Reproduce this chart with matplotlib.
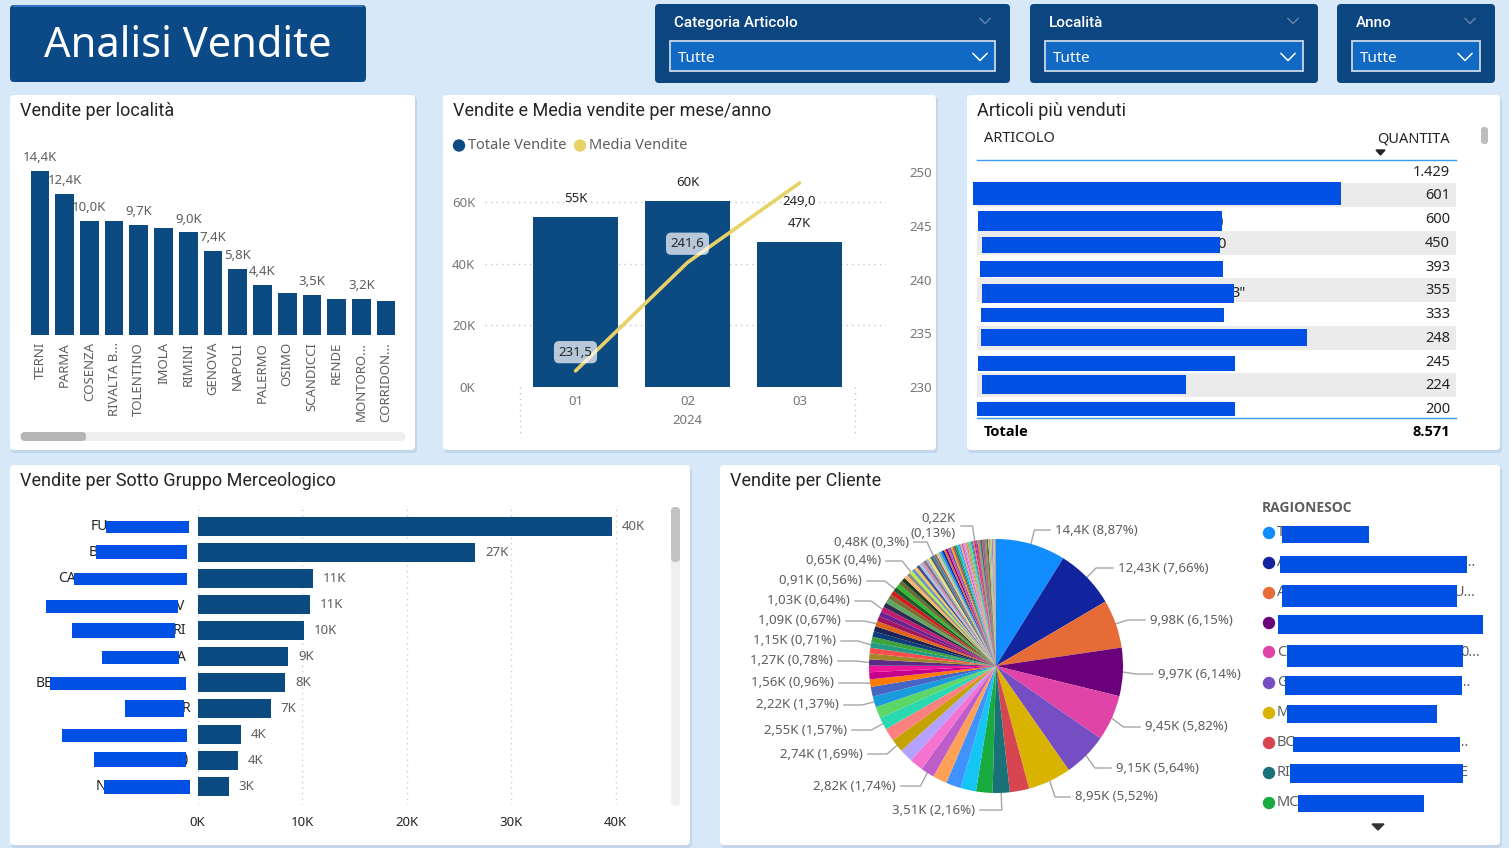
import math
import matplotlib
matplotlib.use("Agg")
import matplotlib.pyplot as plt
import matplotlib.transforms as mtransforms
from matplotlib.patches import FancyBboxPatch, Rectangle, Circle, Polygon

W, H = 1509, 848

# ---------------- dati ----------------
localita = ["TERNI", "PARMA", "COSENZA", "RIVALTA B...", "TOLENTINO", "IMOLA", "RIMINI",
            "GENOVA", "NAPOLI", "PALERMO", "OSIMO", "SCANDICCI", "RENDE", "MONTORO...",
            "CORRIDON..."]
vendite_localita = [14.4, 12.4, 10.0, 10.0, 9.7, 9.4, 9.0, 7.4, 5.8, 4.4, 3.7, 3.5, 3.2, 3.2, 3.0]
localita_con_etichetta = ["TERNI", "PARMA", "COSENZA", "TOLENTINO", "RIMINI", "GENOVA",
                          "NAPOLI", "PALERMO", "SCANDICCI", "MONTORO..."]

mesi = ["01", "02", "03"]
anno = "2024"
totale_vendite = [55100, 60300, 47000]
media_vendite = [231.5, 241.6, 249.0]

quantita_articoli = [1429, 601, 600, 450, 393, 355, 333, 248, 245, 224, 200]
totale_quantita = 8571

# nomi dei sottogruppi oscurati: restano visibili solo alcune lettere
sottogruppi_inizio = ["FU", "B", "CA", "", "", "", "BE", "", "", "", "N"]
sottogruppi_fine = ["", "", "", "V", "RI", "A", "", "R", "", ")", ""]
vendite_sottogruppi = [39.7, 26.6, 11.1, 10.8, 10.2, 8.7, 8.4, 7.0, 4.2, 3.9, 3.0]

vendite_clienti = [14.4, 12.43, 9.98, 9.97, 9.45, 9.15, 8.95,
                   4.0, 3.51, 3.4, 3.2, 3.1, 2.95, 2.82, 2.8, 2.77, 2.74, 2.65, 2.55, 2.4,
                   2.22, 2.0, 1.56, 1.45, 1.35, 1.27, 1.22, 1.18, 1.15, 1.13, 1.12, 1.10,
                   1.09, 1.07, 1.05, 1.03, 1.0, 0.98, 0.96, 0.93, 0.91, 0.88, 0.85, 0.80,
                   0.75, 0.70, 0.65, 0.63, 0.62, 0.60, 0.58, 0.56, 0.55, 0.53, 0.52, 0.50,
                   0.48, 0.46, 0.45, 0.44, 0.42, 0.41, 0.40, 0.38, 0.37, 0.36, 0.35, 0.35,
                   0.34, 0.33, 0.32, 0.31, 0.30, 0.30, 0.29, 0.28, 0.28, 0.27, 0.26, 0.25,
                   0.25, 0.24, 0.23, 0.22, 0.20, 0.19, 0.18, 0.17, 0.16, 0.15, 0.15, 0.14,
                   0.13, 0.12, 0.11, 0.10, 0.10, 0.09, 0.08, 0.07, 0.06, 0.05, 0.20, 0.19,
                   0.18, 0.17, 0.16, 0.15, 0.14, 0.13, 0.12, 0.11, 0.10, 0.09, 0.08, 0.07,
                   0.06, 0.05]
clienti_etichettati = [14.4, 12.43, 9.98, 9.97, 9.45, 9.15, 8.95, 3.51, 2.82, 2.74, 2.55,
                       2.22, 1.56, 1.27, 1.15, 1.09, 1.03, 0.91, 0.65, 0.48, 0.22]
percentuali_etichette = ["8,87", "7,66", "6,15", "6,14", "5,82", "5,64", "5,52", "2,16",
                         "1,74", "1,69", "1,57", "1,37", "0,96", "0,78", "0,71", "0,67",
                         "0,64", "0,56", "0,4", "0,3", "0,13"]

# ---------------- stile ----------------
BLU = "#0C4A82"
GIALLO = "#E8D166"
GRIGIO = "#605E5C"
SCURO = "#252423"
OSCURA = "#0050E4"
SFONDO = "#D7E8F8"
TITOLO = ["Roboto", "DejaVu Sans"]
GRASSETTO = ["Open Sans", "DejaVu Sans"]
plt.rcParams["font.family"] = ["Noto Sans", "DejaVu Sans"]

palette = ["#118DFF", "#12239E", "#E66C37", "#6B007B", "#E044A7", "#744EC2", "#D9B300",
           "#D64550", "#197278", "#1AAB40", "#15C6F4", "#4092FF", "#FFA058", "#BE5DC9",
           "#F472D0", "#B5A1FF", "#C4A200", "#FD8080", "#2BD9B0", "#5BD667", "#1A9BDB",
           "#4766C4", "#FF7A00", "#C4008C", "#F0149B", "#5B2C86", "#A3862A", "#FF4D4D",
           "#229C84", "#3AA33A", "#0D3D7A", "#1A2456", "#E0651A", "#A3145E", "#6A2390",
           "#C21A70", "#2D2B4F", "#5FA85F", "#7C6B35", "#D11A1A", "#1A5C2A", "#33B833",
           "#6A6A33", "#183F24", "#FFB36B", "#8A8A8A", "#B6F23A", "#6B8ED6", "#F2C75C",
           "#4A4A8A", "#9AC8E8", "#D98CB3", "#7A7A7A", "#B0B0D0", "#E8E870", "#5C5C5C",
           "#3E7CB1", "#9E6B3A", "#C9C9C9", "#7FBF7F"]

fig = plt.figure(figsize=(W / 100, H / 100), dpi=100)
fig.patch.set_facecolor(SFONDO)
bg = fig.add_axes([0, 0, 1, 1])
bg.set_xlim(0, W)
bg.set_ylim(H, 0)
bg.axis("off")


def rbox(x0, y0, x1, y1, fc, r=4, ec="none", lw=0, z=1, alpha=1.0):
    bg.add_patch(FancyBboxPatch((x0 + r, y0 + r), x1 - x0 - 2 * r, y1 - y0 - 2 * r,
                                boxstyle=f"round,pad={r}", fc=fc, ec=ec, lw=lw,
                                zorder=z, alpha=alpha))


def ax_px(x0, y0, x1, y1):
    return fig.add_axes([x0 / W, 1 - y1 / H, (x1 - x0) / W, (y1 - y0) / H])


def chevron(x, y, col, s=6):
    bg.plot([x - s, x, x + s], [y - s / 2, y + s / 2, y - s / 2], color=col, lw=1.1, zorder=5)


def pannello(x0, y0, x1, y1, titolo):
    rbox(x0 + 1, y0 + 2, x1 + 2, y1 + 3, "#AFC4D9", alpha=0.45)
    rbox(x0, y0, x1, y1, "white")
    bg.text(x0 + 10, y0 + 16, titolo, fontsize=13, color=SCURO, family=TITOLO,
            va="center", zorder=5)


def fmt_k(v):
    s = f"{v:.2f}".rstrip("0").rstrip(".")
    return s.replace(".", ",")


# ---------------- intestazione e filtri ----------------
rbox(10, 5, 366, 82, "#0C4A87")
bg.plot([14, 362], [5.5, 5.5], color="#3D7CC9", lw=1.2, zorder=3)
bg.text(188, 46, "Analisi Vendite", fontsize=30, color="white", ha="center", va="center",
        zorder=5)

for (x0, x1, nome) in [(655, 1010, "Categoria Articolo"), (1030, 1318, "Località"),
                       (1337, 1495, "Anno")]:
    rbox(x0, 4, x1, 83, "#0C4680")
    bg.text(x0 + 19, 23, nome, fontsize=11, color="white", family=TITOLO, va="center",
            fontweight="medium", zorder=5)
    chevron(x1 - 25, 21, "#5F82AC", 5)
    bg.add_patch(Rectangle((x0 + 15, 41), x1 - x0 - 30, 30, fc="#1169C4", ec="#C9D8EA",
                           lw=1.3, zorder=3))
    bg.text(x0 + 23, 58, "Tutte", fontsize=11, color="white", va="center", zorder=5)
    chevron(x1 - 30, 57, "white", 7)

# ---------------- vendite per località ----------------
pannello(10, 95, 415, 450, "Vendite per località")
ax1 = ax_px(27.6, 150, 398.4, 335)
ax1.bar(range(len(localita)), vendite_localita, width=0.757, color=BLU)
ax1.set_xlim(-0.5, len(localita) - 0.5)
ax1.set_ylim(0, 185 / 11.39)
ax1.set_xticks(range(len(localita)))
ax1.set_xticklabels(localita, rotation=90)
ax1.tick_params(axis="x", length=0, pad=5, labelsize=9.5, labelcolor=GRIGIO)
ax1.set_yticks([])
for s in ax1.spines.values():
    s.set_visible(False)
ax1.patch.set_visible(False)
for i, (nome, v) in enumerate(zip(localita, vendite_localita)):
    if nome in localita_con_etichetta:
        ax1.annotate(f"{v:.1f}K".replace(".", ","), (i, v), xytext=(0, 5),
                     textcoords="offset points", ha="center", va="bottom",
                     fontsize=9.5, color=GRIGIO)
rbox(20, 432, 405, 441, "#EEEEEE")
rbox(21, 432, 86, 441, "#B5B5B5")

# ---------------- vendite e media per mese ----------------
pannello(443, 95, 936, 450, "Vendite e Media vendite per mese/anno")
ax2 = ax_px(485, 172.3, 886, 387)
xm = range(len(mesi))
ax2.bar(xm, totale_vendite, width=0.76, color=BLU, zorder=2)
ax2.set_xlim((485 - 575.5) / 112, (886 - 575.5) / 112)
ax2.set_ylim(0, 69750)
ax2.set_yticks([0, 20000, 40000, 60000])
ax2.set_yticklabels(["0K", "20K", "40K", "60K"])
ax2.set_xticks(list(xm))
ax2.set_xticklabels(mesi)
ax2.tick_params(length=0, labelsize=9.5, labelcolor="#777777")
ax2.tick_params(axis="y", pad=7)
ax2.tick_params(axis="x", pad=6)
ax2.grid(axis="y", color="#C8C8C8", linestyle=(0, (1, 3)), lw=1, zorder=0)
for s in ax2.spines.values():
    s.set_visible(False)
ax2.patch.set_visible(False)
for i, v in enumerate(totale_vendite):
    ax2.annotate(f"{round(v / 1000)}K", (i, v), xytext=(0, 13.5), textcoords="offset points",
                 ha="center", va="center", fontsize=9.5, color=SCURO)
tr = mtransforms.blended_transform_factory(ax2.transData, ax2.transAxes)
ax2.text(1, -0.158, anno, transform=tr, ha="center", va="center", fontsize=9.5, color="#777777")
for xv in [-0.5, len(mesi) - 0.5]:
    ax2.plot([xv, xv], [0, -0.214], transform=tr, color="#C8C8C8", lw=1,
             linestyle=(0, (1, 3)), clip_on=False)

ax2b = ax2.twinx()
ax2b.plot(list(xm), media_vendite, color=GIALLO, lw=2.6, solid_capstyle="round", zorder=3)
ax2b.set_ylim(230, 250)
ax2b.set_yticks([230, 235, 240, 245, 250])
ax2b.tick_params(length=0, labelsize=9.5, labelcolor="#777777", pad=17)
for s in ax2b.spines.values():
    s.set_visible(False)
for i, v in enumerate(media_vendite):
    testo = f"{v:.1f}".replace(".", ",")
    if i < len(media_vendite) - 1:
        ax2b.annotate(testo, (i, v), xytext=(0, 13.5), textcoords="offset points",
                      ha="center", va="center", fontsize=9.5, color=SCURO, zorder=5,
                      bbox=dict(boxstyle="round,pad=0.35,rounding_size=0.4", fc="white",
                                ec="none", alpha=0.7))
    else:
        ax2b.annotate(testo, (i, v), xytext=(0, -13), textcoords="offset points",
                      ha="center", va="center", fontsize=9.5, color=SCURO)

for (cx, col, nome) in [(459, BLU, "Totale Vendite"), (580, GIALLO, "Media Vendite")]:
    bg.add_patch(Circle((cx, 145.5), 5.5, color=col, zorder=5))
    bg.text(cx + 9, 145.5, nome, fontsize=10.5, color=GRIGIO, va="center", zorder=5)

# ---------------- articoli più venduti ----------------
pannello(967, 95, 1500, 450, "Articoli più venduti")
bg.text(984, 139, "ARTICOLO", fontsize=10.5, color=SCURO, va="center", zorder=5)
bg.text(1450, 139, "QUANTITA", fontsize=10.5, color=SCURO, va="center", ha="right", zorder=5)
bg.add_patch(Polygon([[1376, 150], [1385, 150], [1380.5, 155]], color=SCURO, zorder=5))
riga_h = 23.75
y_top = 159.6
box_articoli = [None, (973, 1341, 182, 205), (978, 1222, 211, 231), (982, 1220, 237, 253),
                (980, 1223, 261, 277), (982, 1234, 284, 303), (981, 1224, 308, 322),
                (981, 1307, 329, 346), (978, 1235, 356, 371), (982, 1186, 375, 394),
                (977, 1235, 402, 416)]
frammenti = {2: ")", 3: "0", 5: "3\"", 7: "."}
for i, q in enumerate(quantita_articoli):
    y0 = y_top + i * riga_h
    if i % 2 == 1:
        bg.add_patch(Rectangle((977, y0), 479, riga_h, fc="#EBEBEB", ec="none", zorder=2))
    bg.text(1450, y0 + 12.5, f"{q:,}".replace(",", "."), fontsize=10.5, color=SCURO,
            ha="right", va="center", zorder=5)
    if box_articoli[i] is not None:
        bx0, bx1, by0, by1 = box_articoli[i]
        if i in frammenti:
            bg.text(bx1 - 3, (by0 + by1) / 2, frammenti[i], fontsize=10.5, color=SCURO,
                    va="center", zorder=5)
        bg.add_patch(Rectangle((bx0, by0), bx1 - bx0, by1 - by0, fc=OSCURA, ec="none",
                               zorder=6))
bg.plot([977, 1456], [159.5, 159.5], color="#3C9BEF", lw=1, zorder=5)
y_fine = y_top + len(quantita_articoli) * riga_h - 2.6
bg.plot([977, 1456], [y_fine, y_fine], color="#3C9BEF", lw=1, zorder=5)
bg.text(984, 432, "Totale", fontsize=10.5, color="black", fontweight="bold",
        family=GRASSETTO, va="center", zorder=5)
bg.text(1450, 432, f"{totale_quantita:,}".replace(",", "."), fontsize=10.5, color="black",
        fontweight="bold", family=GRASSETTO, ha="right", va="center", zorder=5)
rbox(1481, 127, 1488, 144, "#BDBDBD", r=3, z=5)

# ---------------- vendite per sotto gruppo ----------------
pannello(10, 465, 690, 845, "Vendite per Sotto Gruppo Merceologico")
ax4 = ax_px(197.5, 507, 665, 805)
ys = range(len(vendite_sottogruppi))
ax4.barh(ys, vendite_sottogruppi, height=0.73, color=BLU, zorder=2)
ax4.set_xlim(0, (665 - 197.5) / 10.45)
ax4.set_ylim(10.72, -0.74)
ax4.set_xticks([0, 10, 20, 30, 40])
ax4.set_xticklabels(["0K", "10K", "20K", "30K", "40K"])
ax4.set_yticks([])
ax4.tick_params(length=0, labelsize=9.5, labelcolor=SCURO, pad=8)
ax4.grid(axis="x", color="#CFCFCF", linestyle=(0, (1, 3)), lw=1, zorder=0)
for s in ax4.spines.values():
    s.set_visible(False)
ax4.patch.set_visible(False)
for i, v in enumerate(vendite_sottogruppi):
    ax4.annotate(f"{round(v)}K", (v, i), xytext=(7, 0), textcoords="offset points",
                 ha="left", va="center", fontsize=9.5, color=GRIGIO)
box_sottogruppi = [(106, 189, 521, 533), (96, 187, 545, 559), (74, 187, 573, 585),
                   (46, 178, 600, 613), (72, 175, 623, 638), (102, 179, 651, 664),
                   (50, 186, 677, 690), (125, 184, 700, 717), (62, 187, 729, 742),
                   (94, 186, 752, 767), (104, 190, 780, 794)]
for pre, post, (bx0, bx1, by0, by1) in zip(sottogruppi_inizio, sottogruppi_fine,
                                           box_sottogruppi):
    ym = (by0 + by1) / 2
    if pre:
        bg.text(bx0 + 2, ym, pre, fontsize=10, color=SCURO, ha="right", va="center", zorder=5)
    if post:
        bg.text(bx1 - 2, ym, post, fontsize=10, color=SCURO, ha="left", va="center", zorder=5)
    bg.add_patch(Rectangle((bx0, by0), bx1 - bx0, by1 - by0, fc=OSCURA, ec="none", zorder=6))
rbox(671, 507, 680, 806, "#F0F0F0", r=4, z=3)
rbox(671, 507, 680, 562, "#C2C2C2", r=4, z=4)

# ---------------- vendite per cliente ----------------
pannello(720, 465, 1500, 845, "Vendite per Cliente")
CX, CY, R = 996, 666, 127
S = 1.25 * R
ax5 = ax_px(CX - S, CY - S, CX + S, CY + S)
colori = [palette[i % len(palette)] for i in range(len(vendite_clienti))]
wedges, _ = ax5.pie(vendite_clienti, colors=colori, startangle=90, counterclock=False,
                    wedgeprops=dict(linewidth=0))
ax5.set_aspect("auto")
ax5.set_xlim(-1.25, 1.25)
ax5.set_ylim(-1.25, 1.25)

pos_etichette = [(1055, 530, "left"), (1118, 568, "left"), (1150, 620, "left"),
                 (1158, 674, "left"), (1145, 727, "left"), (1116, 768, "left"),
                 (1075, 797, "left"), (975, 810, "right"), (896, 786, "right"),
                 (863, 754, "right"), (847, 730, "right"), (839, 705, "right"),
                 (834, 683, "right"), (833, 661, "right"), (836, 641, "right"),
                 (841, 621, "right"), (850, 601, "right"), (862, 581, "right"),
                 (881, 561, "right"), (909, 542, "right"), (956, 526, "right")]
for v, pct, (lx, ly, ha) in zip(clienti_etichettati, percentuali_etichette, pos_etichette):
    w = wedges[vendite_clienti.index(v)]
    ang = math.radians((w.theta1 + w.theta2) / 2)
    dx, dy = ax5.transData.transform((math.cos(ang), math.sin(ang)))
    px, py = dx, H - dy
    ex = CX + 1.1 * (px - CX)
    fine = lx - 5 if ha == "left" else lx + 5
    bg.plot([px, ex, fine], [py, ly, ly], color="#A6A6A6", lw=1, zorder=5)
    testo = f"{fmt_k(v)}K ({pct}%)"
    if v == clienti_etichettati[-1]:
        testo = f"{fmt_k(v)}K\n({pct}%)"
    bg.text(lx, ly, testo, fontsize=9.5, color=GRIGIO, ha=ha, va="center",
            linespacing=1.25, zorder=5)

# legenda clienti (nomi oscurati)
bg.text(1262, 508, "RAGIONESOC", fontsize=10, color=GRIGIO, fontweight="bold",
        family=GRASSETTO, va="center", zorder=5)
leg_y = [533, 563, 593, 623, 652, 683, 713, 743, 773, 803]
leg_box = [(1282, 1369, 526, 543), (1280, 1467, 556, 573), (1282, 1457, 585, 607),
           (1278, 1483, 615, 634), (1287, 1463, 645, 667), (1285, 1462, 676, 695),
           (1287, 1437, 705, 723), (1293, 1460, 737, 752), (1290, 1463, 764, 783),
           (1298, 1424, 795, 812)]
leg_inizio = ["T", "A", "A", "", "C", "G", "M", "BC", "RI", "MC"]
leg_fine = ["", "...", "U...", "", "0...", "...", "", "...", "E", ""]
for i, (yy, (bx0, bx1, by0, by1)) in enumerate(zip(leg_y, leg_box)):
    bg.add_patch(Circle((1269, yy), 5.5, color=palette[i], zorder=5))
    if leg_inizio[i]:
        bg.text(1277, yy, leg_inizio[i], fontsize=10.5, color=GRIGIO, va="center", zorder=5)
    if leg_fine[i]:
        bg.text(bx1 - 3, yy, leg_fine[i], fontsize=10.5, color=GRIGIO, va="center", zorder=5)
    bg.add_patch(Rectangle((bx0, by0), bx1 - bx0, by1 - by0, fc=OSCURA, ec="none", zorder=6))
bg.add_patch(Polygon([[1372, 824], [1384, 824], [1378, 830]], color="#333333", zorder=5))

fig.savefig("out.png", dpi=100, facecolor=SFONDO)
